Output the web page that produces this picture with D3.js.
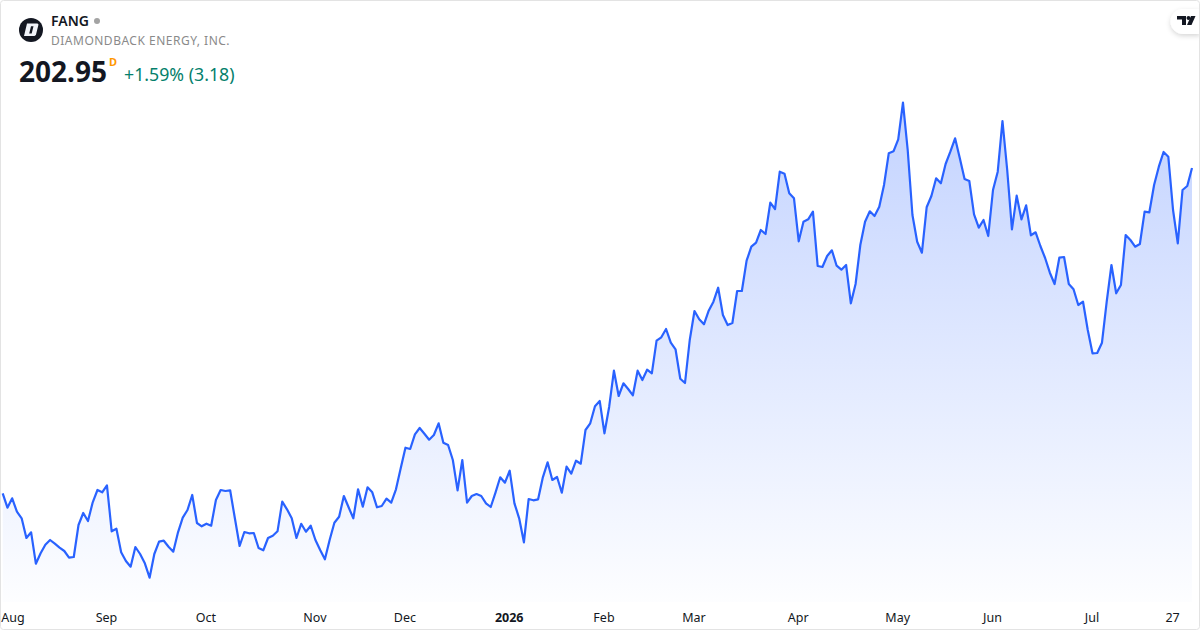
<!DOCTYPE html>
<html>
<head>
<meta charset="utf-8">
<title>FANG</title>
<script src="https://cdn.jsdelivr.net/npm/d3@7"></script>
<style>
    html, body { margin: 0; padding: 0; background: #fff; }
    svg { display: block; font-family: "Noto Sans", sans-serif; }
</style>
</head>
<body>
<svg id="chart" width="1200" height="630"></svg>
<script>
const symbol = 'FANG';
const companyName = 'DIAMONDBACK ENERGY, INC.';
const lastPrice = '202.95';
const priceChange = '+1.59% (3.18)';

// daily closes, one per trading day
const closes = [
    137.89, 135.01, 136.89, 134.21, 132.89, 128.95, 130.09, 123.81, 125.89, 127.61,
    128.55, 127.81, 127.01, 126.35, 125.01, 125.15, 131.55, 133.95, 132.35, 136.09,
    138.55, 138.09, 139.49, 130.29, 130.81, 126.09, 124.35, 123.21, 127.15, 125.75,
    123.89, 121.01, 125.75, 128.21, 128.41, 127.21, 126.21, 130.09, 133.01, 134.55,
    137.55, 131.95, 131.29, 131.81, 131.41, 136.55, 138.55, 138.35, 138.49, 132.89,
    127.35, 130.15, 129.89, 129.95, 126.95, 126.49, 128.95, 129.41, 130.29, 136.21,
    134.69, 132.89, 128.95, 131.79, 130.21, 131.41, 128.55, 126.55, 124.69, 128.55,
    132.01, 133.21, 137.35, 135.09, 132.89, 138.69, 135.21, 139.09, 138.09, 135.09,
    135.35, 136.81, 136.01, 138.69, 142.89, 147.01, 146.75, 149.69, 150.95, 149.81,
    148.61, 149.55, 151.89, 148.01, 147.55, 144.55, 138.49, 144.55, 136.01, 137.35,
    137.75, 137.35, 135.89, 135.15, 138.01, 141.09, 140.01, 142.41, 135.89, 132.89,
    128.09, 136.75, 136.49, 136.69, 141.09, 144.09, 140.55, 141.15, 138.01, 143.21,
    141.81, 144.41, 143.81, 150.55, 151.89, 155.29, 156.35, 149.89, 155.21, 162.41,
    157.35, 159.89, 158.75, 157.49, 162.41, 160.55, 162.61, 161.89, 168.41, 169.09,
    170.75, 168.01, 166.69, 160.81, 159.95, 168.55, 174.35, 172.69, 171.69, 174.41,
    176.21, 179.01, 173.55, 171.55, 171.95, 178.35, 178.35, 184.41, 187.21, 188.01,
    190.55, 189.75, 196.01, 194.75, 202.21, 201.81, 197.89, 196.89, 188.29, 192.21,
    192.69, 194.21, 183.35, 183.15, 185.35, 186.49, 183.41, 182.61, 183.55, 175.89,
    179.75, 187.55, 192.21, 194.29, 193.35, 195.21, 199.55, 205.89, 206.29, 208.69,
    216.01, 206.55, 193.55, 188.21, 186.01, 195.09, 197.35, 200.89, 199.89, 203.75,
    206.21, 208.89, 204.89, 200.75, 200.35, 193.69, 191.01, 192.55, 189.35, 198.55,
    202.21, 212.35, 202.55, 190.69, 197.41, 192.69, 195.49, 189.49, 190.09, 187.35,
    184.95, 182.01, 179.75, 185.01, 185.15, 179.75, 178.69, 175.55, 176.21, 170.55,
    165.89, 165.95, 168.01, 176.21, 183.55, 177.89, 179.55, 189.55, 188.55, 187.21,
    187.75, 194.21, 194.09, 199.55, 203.21, 206.15, 205.21, 194.55, 187.89, 198.55,
    199.35, 202.95
];

// which trading day each axis label sits on
const tickDays = [0, 22, 43, 66, 85, 107, 127, 146, 168, 189, 209, 230, 247];
const tickLabels = ['Aug', 'Sep', 'Oct', 'Nov', 'Dec', '2026', 'Feb', 'Mar', 'Apr', 'May', 'Jun', 'Jul', '27'];

const svg = d3.select('#chart');
const width = 1200, height = 630, plotBottom = 602;

const x = d3.scaleLinear().domain([0, closes.length - 1]).range([2.7, 1192]);
const y = d3.scaleLinear().domain([236.55, 116.15]).range([0, plotBottom]);

const defs = svg.append('defs');
const gradient = defs.append('linearGradient')
    .attr('id', 'area-fill')
    .attr('gradientUnits', 'userSpaceOnUse')
    .attr('x1', 0).attr('x2', 0)
    .attr('y1', y(d3.max(closes))).attr('y2', plotBottom);
gradient.append('stop').attr('offset', 0).attr('stop-color', '#2962ff').attr('stop-opacity', 0.28);
gradient.append('stop').attr('offset', 1).attr('stop-color', '#2962ff').attr('stop-opacity', 0.01);

const shadow = defs.append('filter').attr('id', 'pill-shadow')
    .attr('x', '-30%').attr('y', '-30%').attr('width', '160%').attr('height', '180%');
shadow.append('feDropShadow')
    .attr('dx', 0).attr('dy', 2).attr('stdDeviation', 2.5)
    .attr('flood-color', '#000').attr('flood-opacity', 0.16);

const area = d3.area()
    .x((d, i) => x(i))
    .y0(plotBottom)
    .y1(d => y(d));

const line = d3.line()
    .x((d, i) => x(i))
    .y(d => y(d));

svg.append('path')
    .datum(closes)
    .attr('d', area)
    .attr('fill', 'url(#area-fill)');

svg.append('path')
    .datum(closes)
    .attr('d', line)
    .attr('fill', 'none')
    .attr('stroke', '#2962ff')
    .attr('stroke-width', 2.2)
    .attr('stroke-linejoin', 'round');

const axis = d3.axisBottom(x)
    .tickValues(tickDays)
    .tickSize(0)
    .tickPadding(0)
    .tickFormat((d, i) => tickLabels[i]);

const axisGroup = svg.append('g')
    .attr('transform', `translate(-1,${plotBottom + 20})`)
    .call(axis);
axisGroup.select('.domain').remove();
axisGroup.selectAll('.tick text')
    .attr('y', 0)
    .attr('dy', 0)
    .attr('fill', '#131722')
    .style('font-family', '"Noto Sans", sans-serif')
    .style('font-size', '12.5px')
    .style('font-weight', (d, i) => tickLabels[i] === '2026' ? 700 : 400);
// first label is pushed inside the card
axisGroup.select('.tick text').attr('text-anchor', 'start').attr('x', -1);

// header
svg.append('circle').attr('cx', 31).attr('cy', 30).attr('r', 12).attr('fill', '#131722');
svg.append('path')
    .attr('d', 'M27 23.5h10.500l1 1-2.600 10.500-1.400 1h-10.500z M31 26.300l-1.800 7.200h2.500l1.800-7.200z')
    .attr('fill', '#f0f3fa')
    .attr('fill-rule', 'evenodd');

svg.append('text').attr('x', 51).attr('y', 26)
    .attr('font-size', 14).attr('font-weight', 600).attr('fill', '#131722')
    .text(symbol);
svg.append('circle').attr('cx', 97).attr('cy', 21).attr('r', 3).attr('fill', '#a3a3a3');
svg.append('text').attr('x', 51).attr('y', 45)
    .attr('font-size', 12).attr('letter-spacing', 0.5).attr('fill', '#8a8a8a')
    .text(companyName);
svg.append('text').attr('x', 19).attr('y', 82)
    .attr('font-size', 28).attr('font-weight', 700).attr('fill', '#131722')
    .text(lastPrice);
svg.append('text').attr('x', 109).attr('y', 66)
    .attr('font-size', 11).attr('font-weight', 700).attr('fill', '#ff9800')
    .text('D');
svg.append('text').attr('x', 124).attr('y', 81)
    .attr('font-size', 17.75).attr('fill', '#057f6c')
    .text(priceChange);

// tradingview badge
svg.append('path')
    .attr('d', 'M1200 9h-17a12.500 12.500 0 0 0 0 25h17z')
    .attr('fill', '#fff')
    .attr('filter', 'url(#pill-shadow)');
const badge = svg.append('g').attr('fill', '#131722');
badge.append('path').attr('d', 'M1177 16h9v9h-4v-5.500h-5z');
badge.append('circle').attr('cx', 1188.500).attr('cy', 18).attr('r', 2);
badge.append('path').attr('d', 'M1191 16h4.500l-4 9h-4.500z');

// card outline
svg.append('rect')
    .attr('x', 0.5).attr('y', 0.5)
    .attr('width', width - 1).attr('height', height - 1)
    .attr('rx', 3)
    .attr('fill', 'none')
    .attr('stroke', '#e3e3e3');
</script>
</body>
</html>
